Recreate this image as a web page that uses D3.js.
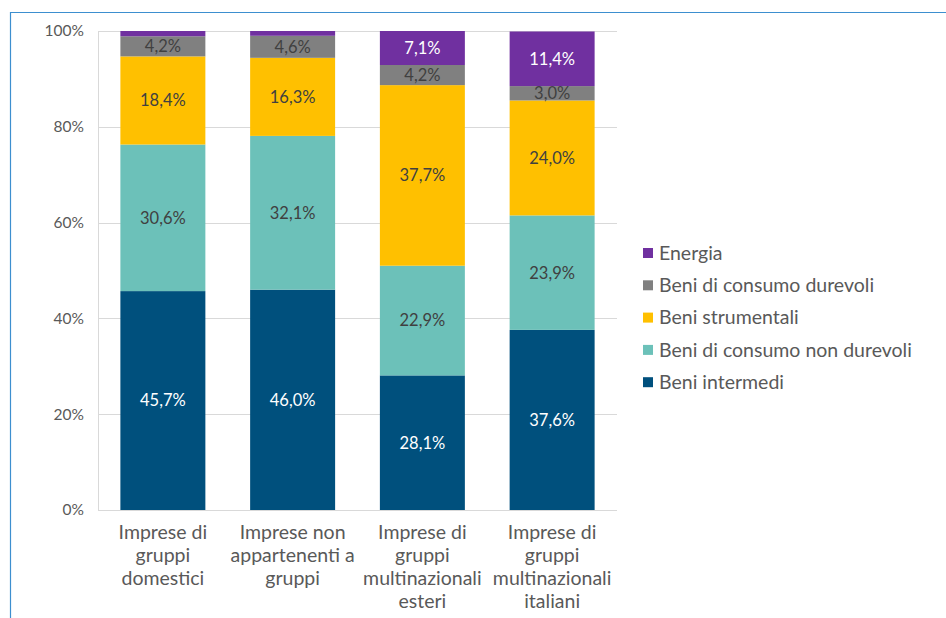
<!DOCTYPE html>
<html><head><meta charset="utf-8">
<script src="https://cdn.jsdelivr.net/npm/d3@7"></script>
<style>
body{margin:0;background:#fff;}
svg{display:block;font-family:Lato,"Open Sans",sans-serif;}
</style></head>
<body>
<svg id="chart" width="946" height="618"></svg>
<script>
// Categories (multi-line labels)
const categories = [
  ["Imprese di","gruppi","domestici"],
  ["Imprese non","appartenenti a","gruppi"],
  ["Imprese di","gruppi","multinazionali","esteri"],
  ["Imprese di","gruppi","multinazionali","italiani"]
];
// Series values, % share (stack order bottom to top)
const beniIntermedi        = [45.7, 46.0, 28.1, 37.6];
const beniConsNonDurevoli  = [30.6, 32.1, 22.9, 23.9];
const beniStrumentali      = [18.4, 16.3, 37.7, 24.0];
const beniConsDurevoli     = [4.2, 4.6, 4.2, 3.0];
const energia              = [1.1, 1.0, 7.1, 11.4];
const yTicks = [0, 20, 40, 60, 80, 100];

const series = [
  {name:"Beni intermedi", values:beniIntermedi, color:"#00507d", text:"#ffffff", label:true},
  {name:"Beni di consumo non durevoli", values:beniConsNonDurevoli, color:"#6cc1b9", text:"#404040", label:true},
  {name:"Beni strumentali", values:beniStrumentali, color:"#ffc000", text:"#404040", label:true},
  {name:"Beni di consumo durevoli", values:beniConsDurevoli, color:"#808080", text:"#404040", label:true},
  {name:"Energia", values:energia, color:"#7030a0", text:"#ffffff", labelMin:3}
];

const svg = d3.select("#chart");

// outer frame
svg.append("path")
  .attr("d","M10.5,618 V12.5 H946")
  .attr("fill","none").attr("stroke","#3d8fcf").attr("stroke-width",1.2);

const plot = {left:98, right:617, top:31, bottom:510};
const x = d3.scaleBand().domain(d3.range(categories.length))
  .range([plot.left, plot.right]).paddingInner(0.345).paddingOuter(0.1725);
const y = d3.scaleLinear().domain([0,100]).range([plot.bottom, plot.top]);

// gridlines
svg.append("g").selectAll("line").data(yTicks).join("line")
  .attr("x1",plot.left).attr("x2",plot.right)
  .attr("y1",d=>Math.round(y(d))+0.5).attr("y2",d=>Math.round(y(d))+0.5)
  .attr("stroke","#d9d9d9").attr("stroke-width",1);
svg.append("line").attr("x1",plot.left+0.5).attr("x2",plot.left+0.5)
  .attr("y1",plot.top).attr("y2",plot.bottom).attr("stroke","#d9d9d9");

// y axis labels
const yAxis = d3.axisLeft(y).tickValues(yTicks).tickFormat(d=>d+"%").tickSize(0).tickPadding(14);
const gy = svg.append("g").attr("transform",`translate(${plot.left},0)`).call(yAxis);
gy.select(".domain").remove();
gy.selectAll("text").attr("font-size",15.5).attr("fill","#595959").attr("font-family","Lato,'Open Sans',sans-serif");

// stacked bars
const stack = d3.stack().keys(d3.range(series.length))
  .value((i,k)=>series[k].values[i]);
const stacked = stack(d3.range(categories.length));

const fmt = v => v.toFixed(1).replace(".",",")+"%";

stacked.forEach((layer,k)=>{
  const s = series[k];
  const g = svg.append("g");
  g.selectAll("rect").data(layer).join("rect")
    .attr("x",(d,i)=>x(i)).attr("width",x.bandwidth())
    .attr("y",d=>y(Math.min(d[1],100))).attr("height",d=>y(d[0])-y(Math.min(d[1],100)))
    .attr("fill",s.color);
  g.selectAll("text").data(layer.filter((d,i)=>s.label || s.values[i]>=s.labelMin)).join("text")
    .attr("x",d=>x(layer.indexOf(d))+x.bandwidth()/2)
    .attr("y",d=>(y(d[0])+y(Math.min(d[1],100)))/2)
    .attr("dy","0.36em")
    .attr("text-anchor","middle")
    .attr("font-size",16.5).attr("fill",s.text)
    .text(d=>fmt(s.values[layer.indexOf(d)]));
});

// category labels
const gx = svg.append("g");
categories.forEach((lines,i)=>{
  const t = gx.append("text").attr("text-anchor","middle")
    .attr("font-size",19.5).attr("fill","#595959");
  lines.forEach((ln,j)=>{
    t.append("tspan").attr("x",x(i)+x.bandwidth()/2)
      .attr("y",539+j*23).text(ln);
  });
});

// legend (top entry is last series)
const legendItems = series.slice().reverse();
const lg = svg.append("g");
legendItems.forEach((s,j)=>{
  const yy = 253 + j*32.3;
  lg.append("rect").attr("x",643).attr("y",yy-5).attr("width",10).attr("height",10).attr("fill",s.color);
  lg.append("text").attr("x",659).attr("y",yy).attr("dy","0.35em")
    .attr("font-size",19.5).attr("fill","#595959").text(s.name);
});
</script>
</body></html>
